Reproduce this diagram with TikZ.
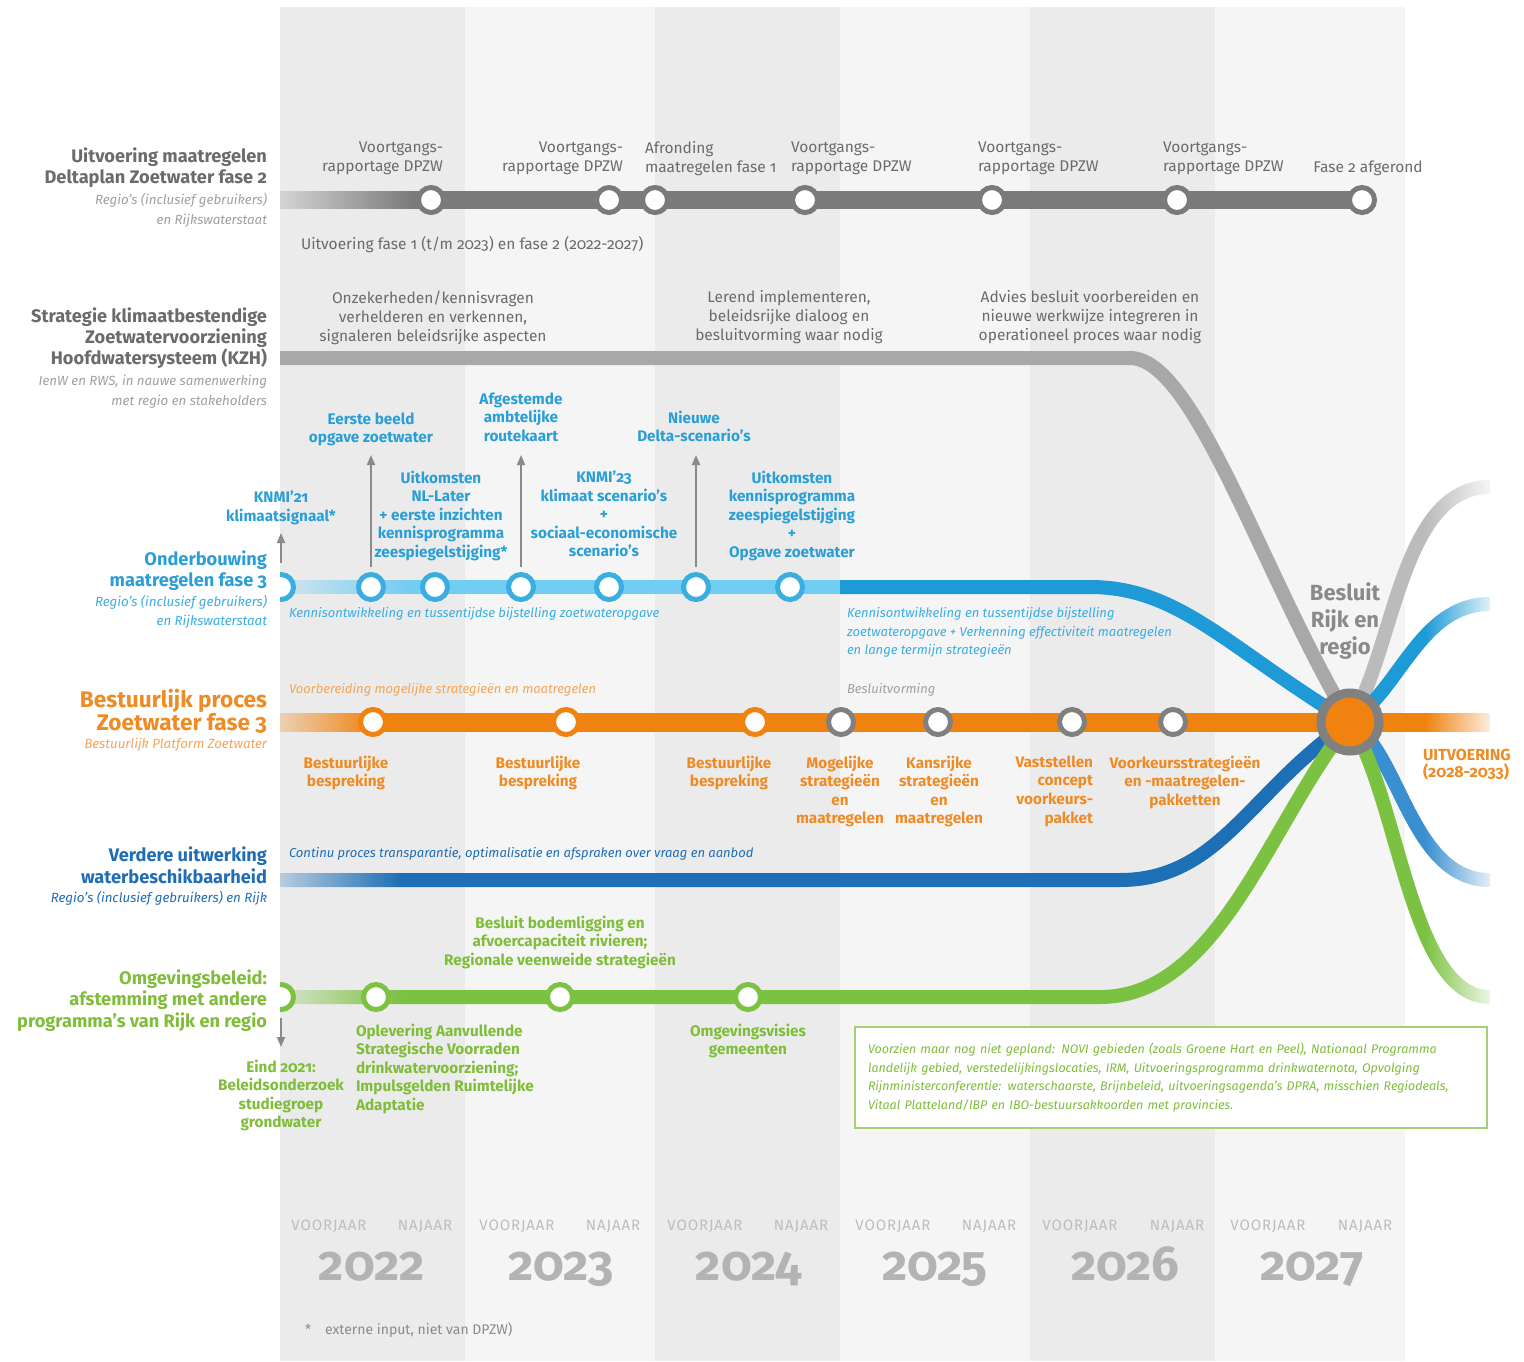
\documentclass[tikz,border=0pt]{standalone}
\usepackage{fontspec}
\setmainfont{Fira Sans}[Numbers=OldStyle]
\usepackage{tikz}
\usetikzlibrary{arrows.meta, fadings}
\pgfdeclarelayer{columns}
\pgfdeclarelayer{tracks}
\pgfsetlayers{columns,tracks,main}
\definecolor{colDark}{HTML}{EBEBEB}
\definecolor{colLight}{HTML}{F5F5F5}
\definecolor{lineDark}{HTML}{7A7A7A}
\definecolor{lineLight}{HTML}{A8A8A8}
\definecolor{lineFaint}{HTML}{BBBBBB}
\definecolor{skyBlue}{HTML}{72CDF3}
\definecolor{ringBlue}{HTML}{3AAEE0}
\definecolor{midBlue}{HTML}{1E9AD6}
\definecolor{deepBlue}{HTML}{1D6FB6}
\definecolor{deepBlueLight}{HTML}{3A8FD0}
\definecolor{zwOrange}{HTML}{F0820F}
\definecolor{zwGreen}{HTML}{7CC242}
\definecolor{ringGray}{HTML}{808080}
\definecolor{arrowGray}{HTML}{8A8A8A}
\definecolor{txtGray}{HTML}{6B6B6B}
\definecolor{subGray}{HTML}{A0A0A0}
\definecolor{txtBlue}{HTML}{2A9FD6}
\definecolor{txtOrange}{HTML}{EF8B24}
\definecolor{subOrange}{HTML}{F3A65A}
\definecolor{txtDeep}{HTML}{1F6DB5}
\definecolor{txtGreen}{HTML}{7FBD3A}
\definecolor{boxGreen}{HTML}{A3D077}
\definecolor{seasonGray}{HTML}{BDBDBD}
\definecolor{yearGray}{HTML}{B3B3B3}

\begin{document}
\begin{tikzpicture}[x=1pt, y=-1pt,
	every node/.style={inner sep=0pt, outer sep=0pt},
	station/.style={circle, draw=#1, line width=5pt, fill=white, minimum size=25pt},
	track/.style={line width=#1},
	lbl/.style={font=\fontsize{15.5}{19}\selectfont, text=txtGray, align=center, anchor=north},
	boldlbl/.style={font=\bfseries\fontsize{15.3}{18.6}\selectfont, align=center, anchor=north},
	running/.style={font=\itshape\fontsize{13}{18.5}\selectfont, anchor=base west},
	head/.style={font=\bfseries\fontsize{18.2}{21.5}\selectfont, align=right, anchor=north east},
	subhead/.style={font=\itshape\fontsize{13.3}{20}\selectfont, align=right, anchor=north east},
	pointer/.style={draw=arrowGray, line width=1.8pt, -{Triangle[length=10pt, width=8pt]}},
	season/.style={font=\fontsize{15}{15}\selectfont\addfontfeature{LetterSpace=6}, text=seasonGray, anchor=base},
	year/.style={font=\bfseries\fontsize{49}{49}\selectfont, text=yearGray, anchor=base}]
	\useasboundingbox (0,0) rectangle (1524,1361);

	% year columns
	\begin{pgfonlayer}{columns}
	\fill[colDark] (280,7) rectangle (465,1361);
	\fill[colLight] (465,7) rectangle (655,1361);
	\fill[colDark] (655,7) rectangle (840,1361);
	\fill[colLight] (840,7) rectangle (1030,1361);
	\fill[colDark] (1030,7) rectangle (1215,1361);
	\fill[colLight] (1215,7) rectangle (1405,1361);
	\end{pgfonlayer}

	% stations
	\node[station=lineDark] (dpzwA) at (431,200) {};
	\node[station=lineDark] (dpzwB) at (609,200) {};
	\node[station=lineDark] (faseEen) at (655,200) {};
	\node[station=lineDark] (dpzwC) at (805,200) {};
	\node[station=lineDark] (dpzwD) at (992,200) {};
	\node[station=lineDark] (dpzwE) at (1177,200) {};
	\node[station=lineDark] (faseTwee) at (1362,200) {};

	\node[station=ringBlue] (ondStart) at (281,587) {};
	\node[station=ringBlue] (ondA) at (371,587) {};
	\node[station=ringBlue] (ondB) at (435,587) {};
	\node[station=ringBlue] (ondC) at (521,587) {};
	\node[station=ringBlue] (ondD) at (609,587) {};
	\node[station=ringBlue] (ondE) at (696,587) {};
	\node[station=ringBlue] (ondF) at (790,587) {};

	\node[station=zwOrange] (bestA) at (373,722) {};
	\node[station=zwOrange] (bestB) at (566,722) {};
	\node[station=zwOrange] (bestC) at (755,722) {};
	\node[station=ringGray] (mogelijk) at (841,722) {};
	\node[station=ringGray] (kansrijk) at (938,722) {};
	\node[station=ringGray] (vaststellen) at (1072,722) {};
	\node[station=ringGray] (voorkeur) at (1173,722) {};

	\node[station=zwGreen] (omgStart) at (281,997) {};
	\node[station=zwGreen] (omgA) at (376,997) {};
	\node[station=zwGreen] (omgB) at (560,997) {};
	\node[station=zwGreen] (omgC) at (748,997) {};

	\node[circle, fill=zwOrange, draw=ringGray, line width=9pt, minimum size=58pt] (besluit) at (1350,722) {};

	\coordinate (dpzwIn) at (280,200);
	\coordinate (kzhStart) at (280,358);
	\coordinate (kzhBend) at (1130,358);
	\coordinate (kzhOut) at (1490,487);
	\coordinate (ondSwitch) at (840,587);
	\coordinate (ondBend) at (1090,587);
	\coordinate (ondOut) at (1490,604);
	\coordinate (bestIn) at (280,722);
	\coordinate (uitvOut) at (1490,722);
	\coordinate (wbIn) at (280,880);
	\coordinate (wbBend) at (1120,880);
	\coordinate (wbOut) at (1490,880);
	\coordinate (omgBend) at (1100,997);
	\coordinate (omgOut) at (1490,997);

	% tracks
	\begin{pgfonlayer}{tracks}
	\draw[track=18pt, lineDark] (dpzwIn) -- (faseTwee.center);

	\draw[track=14pt, lineLight] (kzhStart) -- (kzhBend) .. controls (1195,358) and (1262,575) .. (besluit.center);
	\draw[track=14pt, lineFaint] (besluit.center) .. controls (1395,650) and (1400,487) .. (kzhOut);

	\draw[track=14pt, skyBlue] (ondStart.center) -- (ondSwitch);
	\draw[track=14pt, midBlue] (ondSwitch) -- (ondBend) .. controls (1180,587) and (1230,650) .. (besluit.center);
	\draw[track=14pt, midBlue] (besluit.center) .. controls (1400,690) and (1420,604) .. (ondOut);

	\draw[track=14pt, deepBlue] (wbIn) -- (wbBend) .. controls (1220,880) and (1250,790) .. (besluit.center);
	\draw[track=14pt, deepBlueLight] (besluit.center) .. controls (1400,750) and (1410,880) .. (wbOut);

	\draw[track=14pt, zwGreen] (omgStart.center) -- (omgBend) .. controls (1220,997) and (1270,820) .. (besluit.center);
	\draw[track=14pt, zwGreen] (besluit.center) .. controls (1400,800) and (1410,997) .. (omgOut);

	\draw[track=19pt, zwOrange] (bestIn) -- (uitvOut);

	% fade-in at the left
	\fill[colDark, path fading=east] (247,190) rectangle (413,210);
	\fill[colDark, path fading=east] (250,579) rectangle (410,595);
	\fill[colDark, path fading=east] (247.5,712) rectangle (377.5,732);
	\fill[colDark, path fading=east] (240,872) rectangle (400,888);
	\fill[colDark, path fading=east] (255.5,989) rectangle (401.5,1005);
	\end{pgfonlayer}

	% white label column and right fade
	\fill[white] (0,0) rectangle (280,1361);
	\fill[white, path fading=west] (1425,470) rectangle (1500,1015);

	% pointers
	\coordinate (knmiTip) at (281,533);
	\coordinate (beeldTip) at (371,455);
	\coordinate (routeTip) at (521,455);
	\coordinate (deltaTip) at (696,455);
	\coordinate (grondTip) at (281,1047);
	\draw[pointer] ([yshift=12pt]ondStart.north) -- (knmiTip);
	\draw[pointer] ([yshift=8pt]ondA.north) -- (beeldTip);
	\draw[pointer] ([yshift=8pt]ondC.north) -- (routeTip);
	\draw[pointer] ([yshift=8pt]ondE.north) -- (deltaTip);
	\draw[pointer] ([yshift=-8pt]omgStart.south) -- (grondTip);

	% row headings
	\node[head, text=txtGray] (hDpzw) at (267,147.4) {Uitvoering maatregelen\\Deltaplan Zoetwater fase 2};
	\node[subhead, text=subGray] (sDpzw) at (267,193.7) {Regio's (inclusief gebruikers)\\en Rijkswaterstaat};
	\node[head, text=txtGray, font=\bfseries\fontsize{18.2}{21}\selectfont] (hKzh) at (267,307.4) {Strategie klimaatbestendige\\Zoetwatervoorziening\\Hoofdwatersysteem (KZH)};
	\node[subhead, text=subGray] (sKzh) at (267,374.7) {IenW en RWS, in nauwe samenwerking\\met regio en stakeholders};
	\node[head, text=txtBlue, font=\bfseries\fontsize{18.2}{21}\selectfont] (hOnd) at (267,550.4) {Onderbouwing\\maatregelen fase 3};
	\node[subhead, text=ringBlue, font=\itshape\fontsize{13.3}{19}\selectfont] (sOnd) at (267,595.7) {Regio's (inclusief gebruikers)\\en Rijkswaterstaat};
	\node[head, text=txtOrange, font=\bfseries\fontsize{22.6}{20.5}\selectfont] (hBest) at (267,689.3) {Bestuurlijk proces\\Zoetwater fase 3};
	\node[subhead, text=subOrange, anchor=base east] (sBest) at (267,748.5) {Bestuurlijk Platform Zoetwater};
	\node[head, text=txtDeep, font=\bfseries\fontsize{18.2}{22}\selectfont] (hWb) at (267,846.4) {Verdere uitwerking\\waterbeschikbaarheid};
	\node[subhead, text=txtDeep, anchor=base east] (sWb) at (267,902.5) {Regio's (inclusief gebruikers) en Rijk};
	\node[head, text=txtGreen] (hOmg) at (267,969.4) {Omgevingsbeleid:\\afstemming met andere\\programma's van Rijk en regio};

	% row 1 labels
	\node[lbl, align=right, anchor=north east] (lDpzwA) at (443,141.6) {Voortgangs-\\rapportage DPZW};
	\node[lbl, align=right, anchor=north east] (lDpzwB) at (623,141.6) {Voortgangs-\\rapportage DPZW};
	\node[lbl, align=left, anchor=north west] (lFaseEen) at (645,141.6) {Afronding\\maatregelen fase 1};
	\node[lbl, align=left, anchor=north west] (lDpzwC) at (791,141.6) {Voortgangs-\\rapportage DPZW};
	\node[lbl, align=left, anchor=north west] (lDpzwD) at (978,141.6) {Voortgangs-\\rapportage DPZW};
	\node[lbl, align=left, anchor=north west] (lDpzwE) at (1163,141.6) {Voortgangs-\\rapportage DPZW};
	\node[lbl, anchor=base] (lFaseTwee) at (1368,172) {Fase 2 afgerond};
	\node[lbl, anchor=base west] (lUitv) at (301,249) {Uitvoering fase 1 (t/m 2023) en fase 2 (2022-2027)};

	% row 2 labels
	\node[lbl] (lKzhA) at (433,290.6) {Onzekerheden/kennisvragen\\verhelderen en verkennen,\\signaleren beleidsrijke aspecten};
	\node[lbl] (lKzhB) at (789,290.6) {Lerend implementeren,\\beleidsrijke dialoog en\\besluitvorming waar nodig};
	\node[lbl] (lKzhC) at (1090,290.6) {Advies besluit voorbereiden en\\nieuwe werkwijze integreren in\\operationeel proces waar nodig};

	% row 3 labels
	\node[boldlbl, text=txtBlue] (lKnmiA) at (281,490.7) {KNMI'21\\klimaatsignaal*};
	\node[boldlbl, text=txtBlue] (lBeeld) at (371,412.7) {Eerste beeld\\opgave zoetwater};
	\node[boldlbl, text=txtBlue] (lNlLater) at (441,470.7) {Uitkomsten\\NL-Later\\+ eerste inzichten\\kennisprogramma\\zeespiegelstijging*};
	\node[boldlbl, text=txtBlue] (lRoute) at (521,392.7) {Afgestemde\\ambtelijke\\routekaart};
	\node[boldlbl, text=txtBlue] (lKnmiB) at (604,470.7) {KNMI'23\\klimaat scenario's\\+\\sociaal-economische\\scenario's};
	\node[boldlbl, text=txtBlue] (lDelta) at (694,410.7) {Nieuwe\\Delta-scenario's};
	\node[boldlbl, text=txtBlue] (lZeesp) at (792,470.7) {Uitkomsten\\kennisprogramma\\zeespiegelstijging\\+\\Opgave zoetwater};
	\node[running, text=ringBlue] (rOndA) at (289,617.4) {Kennisontwikkeling en tussentijdse bijstelling zoetwateropgave};
	\node[running, text=ringBlue, anchor=north west, align=left] (rOndB) at (847,607.8) {Kennisontwikkeling en tussentijdse bijstelling\\zoetwateropgave + Verkenning effectiviteit maatregelen\\en lange termijn strategieën};

	% row 4 labels
	\node[running, text=subOrange] (rBest) at (289,693.4) {Voorbereiding mogelijke strategieën en maatregelen};
	\node[running, text=subGray] (rBesluitv) at (847,693.4) {Besluitvorming};
	\node[boldlbl, text=txtOrange] (lBestA) at (346,755.7) {Bestuurlijke\\bespreking};
	\node[boldlbl, text=txtOrange] (lBestB) at (538,755.7) {Bestuurlijke\\bespreking};
	\node[boldlbl, text=txtOrange] (lBestC) at (729,755.7) {Bestuurlijke\\bespreking};
	\node[boldlbl, text=txtOrange] (lMogelijk) at (840,755.7) {Mogelijke\\strategieën\\en\\maatregelen};
	\node[boldlbl, text=txtOrange] (lKansrijk) at (939,755.7) {Kansrijke\\strategieën\\en\\maatregelen};
	\node[boldlbl, text=txtOrange, align=right, anchor=north east] (lVaststellen) at (1093,755.7) {Vaststellen\\concept\\voorkeurs-\\pakket};
	\node[boldlbl, text=txtOrange] (lVoorkeur) at (1185,755.7) {Voorkeursstrategieën\\en -maatregelen-\\pakketten};
	\node[boldlbl, text=txtOrange, align=left, anchor=north west, font=\bfseries\fontsize{16}{17}\selectfont] (lUitvoering) at (1423,749.4) {UITVOERING\\(2028-2033)};
	\node[boldlbl, text=arrowGray, font=\bfseries\fontsize{22}{27}\selectfont] (lBesluit) at (1345,582.5) {Besluit\\Rijk en\\regio};

	% row 5 labels
	\node[running, text=txtDeep] (rWb) at (289,857.4) {Continu proces transparantie, optimalisatie en afspraken over vraag en aanbod};

	% row 6 labels
	\node[boldlbl, text=txtGreen] (lBodem) at (560,915.7) {Besluit bodemligging en\\afvoercapaciteit rivieren;\\Regionale veenweide strategieën};
	\node[boldlbl, text=txtGreen] (lGrond) at (281,1059.7) {Eind 2021:\\Beleidsonderzoek\\studiegroep\\grondwater};
	\node[boldlbl, text=txtGreen, align=left, anchor=north west] (lOplevering) at (356,1023.7) {Oplevering Aanvullende\\Strategische Voorraden\\drinkwatervoorziening;\\Impulsgelden Ruimtelijke\\Adaptatie};
	\node[boldlbl, text=txtGreen] (lVisies) at (748,1023.7) {Omgevingsvisies\\gemeenten};
	\node[draw=boxGreen, line width=1.5pt, fill=white, anchor=north west, minimum width=632pt, minimum height=101pt, inner xsep=13pt, text width=606pt, align=left, text=txtGreen, font=\itshape\fontsize{12.5}{18.8}\selectfont] (nogNiet) at (855,1027) {Voorzien maar nog niet gepland: NOVI gebieden (zoals Groene Hart en Peel), Nationaal Programma\\landelijk gebied, verstedelijkingslocaties, IRM, Uitvoeringsprogramma drinkwaternota, Opvolging\\Rijnministerconferentie: waterschaarste, Brijnbeleid, uitvoeringsagenda's DPRA, misschien Regiodeals,\\Vitaal Platteland/IBP en IBO-bestuursakkoorden met provincies.};

	% time axis
	\node[season] (vj22) at (329,1230) {VOORJAAR};
	\node[season] (nj22) at (425,1230) {NAJAAR};
	\node[season] (vj23) at (517,1230) {VOORJAAR};
	\node[season] (nj23) at (613,1230) {NAJAAR};
	\node[season] (vj24) at (705,1230) {VOORJAAR};
	\node[season] (nj24) at (801,1230) {NAJAAR};
	\node[season] (vj25) at (893,1230) {VOORJAAR};
	\node[season] (nj25) at (989,1230) {NAJAAR};
	\node[season] (vj26) at (1080,1230) {VOORJAAR};
	\node[season] (nj26) at (1177,1230) {NAJAAR};
	\node[season] (vj27) at (1268,1230) {VOORJAAR};
	\node[season] (nj27) at (1365,1230) {NAJAAR};
	\node[year] (y22) at (372,1280) {2022};
	\node[year] (y23) at (561,1280) {2023};
	\node[year] (y24) at (749,1280) {2024};
	\node[year] (y25) at (935,1280) {2025};
	\node[year] (y26) at (1125,1280) {2026};
	\node[year] (y27) at (1312,1280) {2027};
	\node[anchor=base west, text=arrowGray, font=\fontsize{14}{16}\selectfont] (voetnoot) at (305,1334) {*\quad externe input, niet van DPZW)};
\end{tikzpicture}
\end{document}
